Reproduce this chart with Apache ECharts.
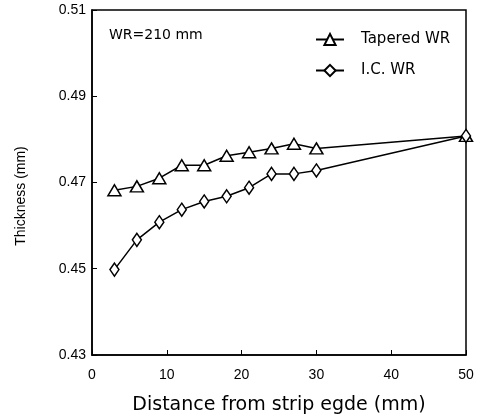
<!DOCTYPE html>
<html><head><meta charset="utf-8">
<script src="https://cdn.jsdelivr.net/npm/echarts@6/dist/echarts.min.js"></script>
<style>html,body{margin:0;padding:0;background:#fff}#c{width:478px;height:417px}</style>
</head><body><div id="c"></div>
<script>
const xValues = [3, 6, 9, 12, 15, 18, 21, 24, 27, 30, 50];
const taperedWR = [0.4682, 0.4691, 0.4710, 0.4740, 0.4740, 0.4762, 0.4770, 0.4779, 0.4790, 0.4779, 0.4808];
const icWR = [0.4498, 0.4567, 0.4608, 0.4637, 0.4656, 0.4668, 0.4688, 0.4720, 0.4720, 0.4728, 0.4808];
const seriesNames = ['Tapered WR', 'I.C. WR'];
const annotation = 'WR=210 mm';
const xTitle = 'Distance from strip egde (mm)';
const yTitle = 'Thickness (mm)';

const font = 'Liberation Sans, Arial, sans-serif';
const wide = 'DejaVu Sans, sans-serif';
const chart = echarts.init(document.getElementById('c'));
const pairs = arr => xValues.map((x, i) => [x, arr[i]]);
chart.setOption({
  animation: false,
  backgroundColor: '#fff',
  grid: { left: 92, right: 12, top: 10, bottom: 62, outerBoundsMode: 'none', containLabel: false,
          show: true, borderColor: '#000', borderWidth: 1.5, backgroundColor: 'transparent' },
  xAxis: {
    type: 'value', min: 0, max: 50, interval: 10,
    name: xTitle, nameLocation: 'middle', nameGap: 41,
    nameTextStyle: { fontFamily: wide, fontSize: 19, color: '#000' },
    axisLine: { lineStyle: { color: '#000', width: 1.5 } },
    axisTick: { inside: true, length: 5, lineStyle: { color: '#000' } },
    axisLabel: { fontFamily: font, fontSize: 14, color: '#000', margin: 13 },
    splitLine: { show: false }
  },
  yAxis: {
    type: 'value', min: 0.43, max: 0.51, interval: 0.02,
    axisLine: { lineStyle: { color: '#000', width: 1.5 } },
    axisTick: { inside: true, length: 5, lineStyle: { color: '#000' } },
    axisLabel: { fontFamily: font, fontSize: 14, color: '#000', margin: 6, formatter: v => v.toFixed(2) },
    splitLine: { show: false }
  },
  legend: {
    orient: 'vertical', left: 315, top: 32, padding: 0, itemGap: 16, itemWidth: 28, itemHeight: 14,
    textStyle: { fontFamily: wide, fontSize: 15, color: '#000', padding: [0, 0, 0, 12] },
    data: seriesNames
  },
  graphic: [
    { type: 'text', left: 109, top: 28, style: { text: annotation, fontFamily: wide, fontSize: 14, fill: '#000' } },
    { type: 'text', x: 21, y: 196, rotation: Math.PI / 2,
      style: { text: yTitle, fontFamily: font, fontSize: 14, fill: '#000', align: 'center', verticalAlign: 'middle' } }
  ],
  series: [
    { name: seriesNames[0], type: 'line', data: pairs(taperedWR), symbol: 'triangle', symbolSize: [13, 11],
      lineStyle: { color: '#000', width: 1.5 }, itemStyle: { color: '#fff', borderColor: '#000', borderWidth: 1.5 } },
    { name: seriesNames[1], type: 'line', data: pairs(icWR), symbol: 'diamond', symbolSize: [9, 13],
      lineStyle: { color: '#000', width: 1.5 }, itemStyle: { color: '#fff', borderColor: '#000', borderWidth: 1.5 } }
  ]
});
</script></body></html>
